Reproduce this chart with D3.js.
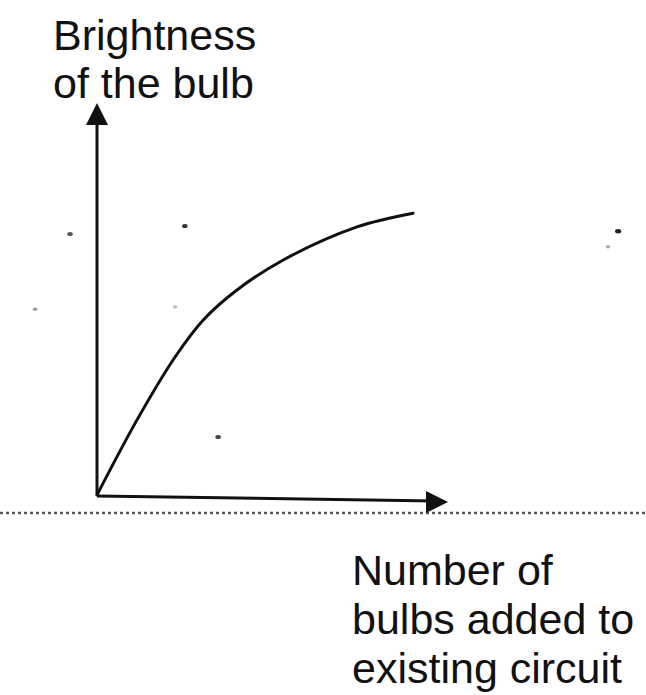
<!DOCTYPE html>
<html>
<head>
<meta charset="utf-8">
<script src="https://cdn.jsdelivr.net/npm/d3@7"></script>
<style>
  html, body { margin: 0; padding: 0; background: #fff; }
  text { font-family: "Liberation Sans", Arial, sans-serif; fill: #111; }
</style>
</head>
<body>
<svg id="chart" width="646" height="695"></svg>
<script>
// bulbs added vs brightness (arbitrary units 0..10)
const bulbs      = [0, 1.14, 2.23, 3.03, 4.00, 5.31, 7.43, 9.03];
const brightness = [0, 1.91, 3.52, 4.46, 5.23, 5.99, 6.84, 7.19];

const yLabel = ["Brightness", "of the bulb"];
const xLabel = ["Number of", "bulbs added to", "existing circuit"];

// scan specks: [x, y, radius, shade]
const specks = [
  [-0.77, 6.66, 2, "#555"],
  [2.51, 6.86, 2, "#333"],
  [-1.77, 4.74, 1.6, "#999"],
  [2.23, 4.80, 1.6, "#bbb"],
  [3.46, 1.48, 2, "#444"],
  [14.89, 6.73, 2.2, "#222"],
  [14.6, 6.33, 1.6, "#aaa"]
];

const svg = d3.select("#chart");

const x = d3.scaleLinear().domain([0, 10]).range([97, 447]);
const y = d3.scaleLinear().domain([0, 10]).range([495, 103]);

// dotted line under the axis (edge of the scanned page)
svg.append("line")
    .attr("x1", 0).attr("x2", 646)
    .attr("y1", y(0) + 18).attr("y2", y(0) + 18)
    .attr("stroke", "#555").attr("stroke-width", 2.5)
    .attr("stroke-dasharray", "3,3");

// y axis with arrow
svg.append("line")
    .attr("x1", x(0)).attr("y1", y(0))
    .attr("x2", x(0)).attr("y2", y(10) + 12)
    .attr("stroke", "#111").attr("stroke-width", 3);
svg.append("path")
    .attr("d", "M " + x(0) + " " + y(10) + " l -11 22 l 22 0 z")
    .attr("fill", "#111");

// x axis with arrow, slightly tilted like the scan
const tilt = 5;
svg.append("line")
    .attr("x1", x(0)).attr("y1", y(0) + 1)
    .attr("x2", x(10) - 12).attr("y2", y(0) + tilt + 1)
    .attr("stroke", "#111").attr("stroke-width", 3);
svg.append("path")
    .attr("d", "M " + (x(10) + 1) + " " + (y(0) + tilt + 2) + " l -22 -11 l 0 22 z")
    .attr("fill", "#111");

// curve
const line = d3.line()
    .x(d => x(d[0]))
    .y(d => y(d[1]))
    .curve(d3.curveCatmullRom.alpha(0.5));

svg.append("path")
    .datum(bulbs.map((b, i) => [b, brightness[i]]))
    .attr("d", line)
    .attr("fill", "none")
    .attr("stroke", "#111")
    .attr("stroke-width", 3)
    .attr("stroke-linecap", "round");

svg.selectAll(".speck")
  .data(specks)
  .enter().append("ellipse")
    .attr("class", "speck")
    .attr("cx", d => x(d[0])).attr("cy", d => y(d[1]))
    .attr("rx", d => d[2] * 1.4).attr("ry", d => d[2])
    .attr("fill", d => d[3]);

// labels
svg.selectAll(".ylab")
  .data(yLabel)
  .enter().append("text")
    .attr("class", "ylab")
    .attr("x", 53)
    .attr("y", (d, i) => 50 + i * 48)
    .attr("font-size", 43)
    .text(d => d);

svg.selectAll(".xlab")
  .data(xLabel)
  .enter().append("text")
    .attr("class", "xlab")
    .attr("x", 352)
    .attr("y", (d, i) => 585 + i * 49)
    .attr("font-size", 43)
    .text(d => d);
</script>
</body>
</html>
